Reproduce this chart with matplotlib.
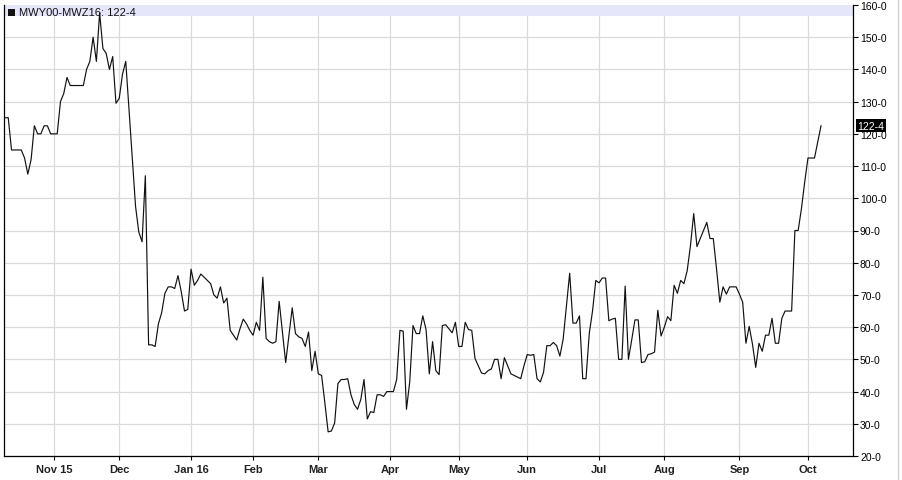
import matplotlib
matplotlib.use("Agg")
import matplotlib.pyplot as plt
import matplotlib.transforms as mtransforms
from matplotlib.lines import Line2D
from matplotlib.patches import Rectangle
import pandas as pd

# ---------------- data ----------------
series_name = "MWY00-MWZ16"
start_date = "2015-10-12"
holidays = ["2015-11-26", "2015-12-25", "2016-01-01", "2016-01-18", "2016-02-15",
            "2016-03-25", "2016-05-30", "2016-07-04", "2016-09-05"]

oct15 = [125, 125, 115, 115, 115, 115, 112.5, 107.5, 112, 122.5, 120, 120, 122.5, 122.5, 120]
nov15 = [120, 120, 130, 132.5, 137.5, 135, 135, 135, 135, 135, 140, 142.5, 150, 142.5,
         157.5, 146.5, 145, 140, 144, 129.5]
dec15 = [131, 138.5, 142.5, 127.5, 112.5, 97.5, 89.5, 86.5, 107, 54.5, 54.5, 54, 61, 64.5,
         70.5, 72.5, 72.5, 72, 76, 71, 65, 65.5]
jan16 = [78, 73, 74.5, 76.5, 75.5, 74.5, 73.5, 70, 69, 72.5, 67.5, 69, 59, 57.5, 56, 59.5,
         62.5, 61, 59]
feb16 = [57.5, 61.5, 59, 75.5, 56.5, 55.5, 55, 55.5, 68, 58.5, 49, 57.5, 66, 58, 57, 56.5,
         54, 58.5, 46.5, 52.5]
mar16 = [45.5, 45, 36.5, 27.5, 27.75, 30.25, 42.5, 43.75, 43.75, 44, 39, 36, 34.5, 37.5,
         43.75, 31.5, 33.75, 33.5, 39, 39, 38.5, 40]
apr16 = [40, 40, 43.75, 59, 58.75, 34.5, 43, 60.5, 58, 58, 63.5, 59.25, 45.5, 55.5, 46.5,
         45.25, 60.5, 60.75, 59.5, 58.25, 61.5]
may16 = [54, 54, 61.5, 59.25, 59, 50.25, 48, 45.75, 45.5, 46.5, 47, 50, 50, 44, 50.5, 48,
         45.5, 45, 44.5, 44, 48]
jun16 = [51.5, 51.25, 51.5, 44, 43, 46, 54.25, 54.25, 55.25, 54.25, 51, 56.25, 66.5, 76.75,
         61.25, 61.25, 63.5, 44, 44, 58, 65, 74.5]
jul16 = [73.75, 75.25, 75.25, 62, 62.5, 62.75, 50, 50, 72.75, 50, 56, 62.25, 62.25, 49,
         49.25, 51.5, 51.75, 52.25, 65.25, 57.25]
aug16 = [60, 63.25, 62, 73, 70.5, 74.5, 73.5, 77.5, 85.25, 95.25, 85, 87.5, 90, 92.5, 87.5,
         87.5, 78, 67.75, 72.5, 70.25, 72.5, 72.5, 72.5]
sep16 = [70.25, 67.75, 55, 60.25, 54.75, 47.5, 55, 52.5, 57.5, 57.5, 62.75, 55, 55, 62.75,
         65, 65, 65, 90, 90, 96.75, 105]
oct16 = [112.5, 112.5, 112.5, 117.5, 122.5]

month_labels = ["Nov 15", "Dec", "Jan 16", "Feb", "Mar", "Apr", "May", "Jun", "Jul",
                "Aug", "Sep", "Oct"]
y_ticks = list(range(20, 161, 10))

values = (oct15 + nov15 + dec15 + jan16 + feb16 + mar16 + apr16 + may16 + jun16 +
          jul16 + aug16 + sep16 + oct16)
dates = pd.bdate_range(start=start_date, periods=len(values), freq="C", holidays=holidays)
idx = list(range(len(values)))

# first trading day of each month (from Nov 2015)
periods = dates.to_period("M")
tick_idx = []
seen = set()
for i, p in enumerate(periods):
    if p not in seen:
        seen.add(p)
        tick_idx.append(i)
tick_idx = tick_idx[1:]  # skip partial October 2015


def fmt_price(v):
    whole = int(v)
    eighths = int(round((v - whole) * 8))
    return f"{whole}-{eighths}"


# ---------------- figure ----------------
W, H = 902, 481
fig = plt.figure(figsize=(W / 100, H / 100), dpi=100)
fig.patch.set_facecolor("white")
ax = fig.add_axes([4 / W, 24 / H, 849 / W, 451 / H])

ax.set_xlim(-0.3, 259.8)
ax.set_ylim(20, 160)

ax.grid(True, color="#dadada", linewidth=0.9, zorder=0)
ax.set_axisbelow(True)
ax.axhspan(156.6, 160, color="#e6e6fa", zorder=1, linewidth=0)

ax.plot(idx, values, color="#111111", linewidth=0.85, zorder=3)

# axes / ticks
for s in ["left", "bottom", "right"]:
    ax.spines[s].set_color("black")
    ax.spines[s].set_linewidth(0.9)
ax.spines["top"].set_visible(False)

ax.yaxis.tick_right()
ax.set_yticks(y_ticks)
ax.set_yticklabels([fmt_price(v) for v in y_ticks], fontsize=7.5,
                   family=["Liberation Sans", "DejaVu Sans"])
ax.tick_params(axis="y", direction="out", length=3.5, width=0.8, pad=1.5, colors="black")

ax.set_xticks(tick_idx)
ax.set_xticklabels(month_labels, fontsize=8, fontweight="bold",
                   family=["Liberation Sans Narrow", "Liberation Sans", "DejaVu Sans"],
                   color="#222222")
ax.tick_params(axis="x", direction="out", length=3, width=0.8, pad=3)

# last value marker on right axis
trans = mtransforms.blended_transform_factory(ax.transAxes, ax.transData)
last_val = values[-1]
ax.text(1.0 + 4.5 / 849, last_val, fmt_price(last_val), transform=trans,
        color="white", fontsize=7.5, va="center", ha="left",
        family=["Liberation Sans", "DejaVu Sans"],
        bbox=dict(facecolor="black", edgecolor="none", pad=1.2), zorder=5)

# legend in the header band
fig.add_artist(Rectangle((8 / W, 1 - 16.5 / H), 7 / W, 7 / H, transform=fig.transFigure,
                         facecolor="#111111", edgecolor="none"))
fig.text(19 / W, 1 - 12.5 / H, series_name + ": " + fmt_price(last_val),
         fontsize=8, va="center", ha="left", color="#111111",
         family=["Liberation Sans", "DejaVu Sans"])

# light frame at right edge
fig.add_artist(Line2D([898 / W, 898 / W], [0, 1], color="#d0d0d0", linewidth=1,
                      transform=fig.transFigure))

fig.savefig("out.png", dpi=100, facecolor="white")
